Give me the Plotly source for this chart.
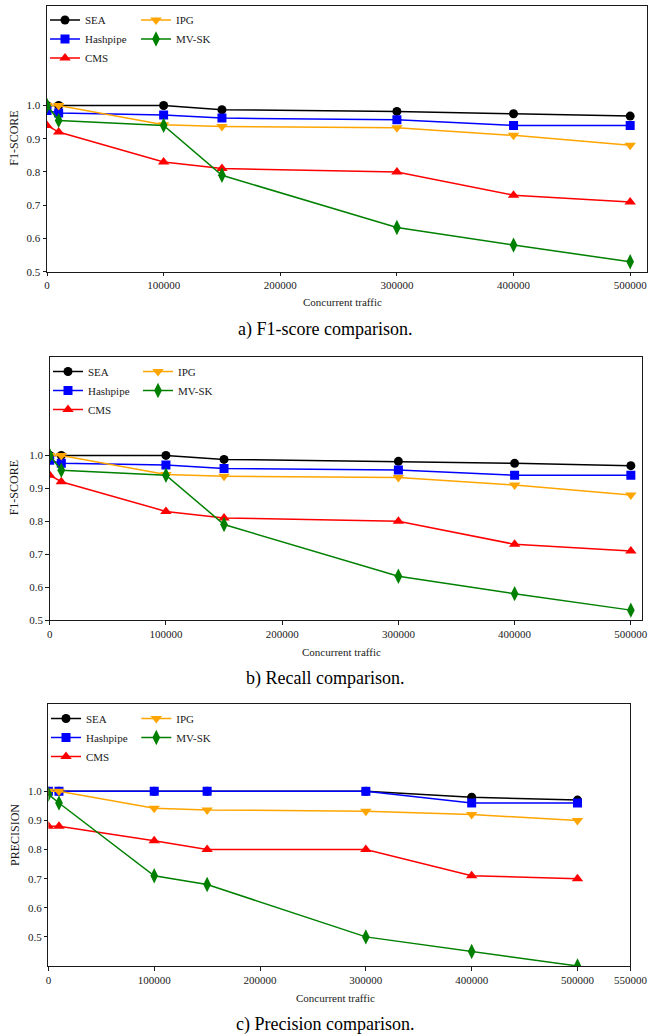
import plotly.graph_objects as go

# ---------------- data ----------------
x_traffic = [0, 10000, 100000, 150000, 300000, 400000, 500000]
series_names = ["SEA", "Hashpipe", "CMS", "IPG", "MV-SK"]

f1_sea = [1.0, 1.0, 1.0, 0.987, 0.982, 0.975, 0.968]
f1_hashpipe = [0.985, 0.977, 0.971, 0.962, 0.957, 0.94, 0.94]
f1_cms = [0.94, 0.92, 0.83, 0.81, 0.80, 0.73, 0.71]
f1_ipg = [1.0, 1.0, 0.942, 0.937, 0.933, 0.91, 0.88]
f1_mvsk = [1.0, 0.955, 0.94, 0.79, 0.633, 0.58, 0.53]

recall_sea = [1.0, 1.0, 1.0, 0.988, 0.982, 0.976, 0.969]
recall_hashpipe = [0.985, 0.976, 0.971, 0.96, 0.956, 0.94, 0.94]
recall_cms = [0.94, 0.92, 0.83, 0.81, 0.80, 0.73, 0.71]
recall_ipg = [1.0, 1.0, 0.942, 0.937, 0.933, 0.91, 0.88]
recall_mvsk = [1.0, 0.955, 0.94, 0.79, 0.633, 0.58, 0.53]

prec_sea = [1.0, 1.0, 1.0, 1.0, 1.0, 0.98, 0.97]
prec_hashpipe = [1.0, 1.0, 1.0, 1.0, 1.0, 0.96, 0.96]
prec_cms = [0.88, 0.88, 0.83, 0.80, 0.80, 0.71, 0.70]
prec_ipg = [1.0, 1.0, 0.942, 0.936, 0.932, 0.92, 0.90]
prec_mvsk = [0.99, 0.96, 0.71, 0.68, 0.50, 0.45, 0.40]

x_ticks_ab = [0, 100000, 200000, 300000, 400000, 500000]
x_ticks_c = [0, 100000, 200000, 300000, 400000, 500000, 550000]
y_ticks = [0.5, 0.6, 0.7, 0.8, 0.9, 1.0]

captions = ["a) F1-score comparison.", "b) Recall comparison.", "c) Precision comparison."]
y_titles = ["F1-SCORE", "F1-SCORE", "PRECISION"]
x_title = "Concurrent traffic"

# ---------------- style ----------------
W, H = 649, 1036
FONT = "Liberation Serif"
INK = "#1a1a1a"
colors = ["black", "#0000ff", "#ff0000", "#ffa500", "#008000"]
symbols = ["circle", "square", "triangle-up", "triangle-down", "diamond-tall"]
msizes = [9, 9, 10, 10, 11]


def px(p):
    return p / W


def py(p):
    return 1 - p / H


panels = [
    dict(data=[f1_sea, f1_hashpipe, f1_cms, f1_ipg, f1_mvsk],
         box=(47, 646.5, 5.7, 271.7), xr=[0, 514000], yr=[0.5, 1.3], xt=x_ticks_ab,
         leg=(45, 136, 5.5), xtitle_y=302, ytitle_x=14, cap_y=330),
    dict(data=[recall_sea, recall_hashpipe, recall_cms, recall_ipg, recall_mvsk],
         box=(49.7, 642, 356.7, 620), xr=[0, 509600], yr=[0.5, 1.3], xt=x_ticks_ab,
         leg=(48, 138, 357), xtitle_y=652, ytitle_x=14, cap_y=678),
    dict(data=[prec_sea, prec_hashpipe, prec_cms, prec_ipg, prec_mvsk],
         box=(48.4, 630.4, 704, 966), xr=[0, 550000], yr=[0.4, 1.3], xt=x_ticks_c,
         leg=(46, 136.3, 704), xtitle_y=998, ytitle_x=15, cap_y=1024),
]

fig = go.Figure()
layout = dict(
    width=W, height=H, margin=dict(l=0, r=0, t=0, b=0, autoexpand=False),
    paper_bgcolor="white", plot_bgcolor="white",
    font=dict(family=FONT, size=11, color=INK),
    showlegend=True, annotations=[],
)

axis_common = dict(showline=True, mirror=True, linecolor=INK, linewidth=1,
                   ticks="outside", ticklen=3.5, tickwidth=1, tickcolor=INK,
                   showgrid=False, zeroline=False, automargin=False,
                   ticklabeloverflow="allow",
                   tickfont=dict(family=FONT, size=11, color=INK))

legend_idx = 1
for i, p in enumerate(panels):
    n = "" if i == 0 else str(i + 1)
    xl, xr_, yt, yb = p["box"]
    lega = "legend" if legend_idx == 1 else f"legend{legend_idx}"
    legb = f"legend{legend_idx + 1}"
    for k, name in enumerate(series_names):
        fig.add_trace(go.Scatter(
            x=x_traffic, y=p["data"][k], name=name, mode="lines+markers",
            line=dict(color=colors[k], width=1.5),
            marker=dict(symbol=symbols[k], size=msizes[k], color=colors[k]),
            xaxis="x" + n, yaxis="y" + n,
            legend=lega if k < 3 else legb,
        ))
    layout["xaxis" + n] = dict(axis_common, domain=[px(xl), px(xr_)], range=p["xr"],
                               anchor="y" + n, tickvals=p["xt"], tickformat="d")
    layout["yaxis" + n] = dict(axis_common, domain=[py(yb), py(yt)], range=p["yr"],
                               anchor="x" + n, tickvals=y_ticks, tickformat=".1f")
    lx1, lx2, ly = p["leg"]
    for lname, lx in ((lega, lx1), (legb, lx2)):
        layout[lname] = dict(x=px(lx), y=py(ly), xanchor="left", yanchor="top",
                             bgcolor="rgba(0,0,0,0)", borderwidth=0,
                             tracegroupgap=0, itemwidth=30,
                             font=dict(family=FONT, size=11, color=INK))
    legend_idx += 2

    layout["annotations"] += [
        dict(text=x_title, xref="paper", yref="paper", x=px((xl + xr_) / 2 - 4),
             y=py(p["xtitle_y"]), showarrow=False, xanchor="center", yanchor="middle",
             font=dict(family=FONT, size=11, color=INK)),
        dict(text=y_titles[i], xref="paper", yref="paper", x=px(p["ytitle_x"]),
             y=py((yt + yb) / 2), showarrow=False, textangle=-90,
             xanchor="center", yanchor="middle",
             font=dict(family=FONT, size=12, color=INK)),
        dict(text=captions[i], xref="paper", yref="paper", x=px(325),
             y=py(p["cap_y"]), showarrow=False, xanchor="center", yanchor="middle",
             font=dict(family=FONT, size=18, color="black")),
    ]

fig.update_layout(**layout)
fig.write_html(
    "out.html",
    config={"displayModeBar": False},
    post_script="document.body.style.margin='0';document.body.style.overflow='hidden';",
)
